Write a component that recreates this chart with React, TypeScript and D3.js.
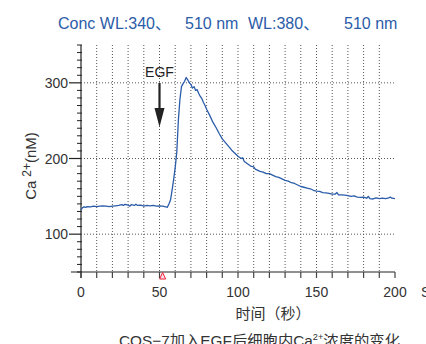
import React from "react";
import * as d3 from "d3";

const times: number[] = [
  0, 1, 2, 3, 4, 6, 8, 10, 12, 14, 16, 18, 20, 22, 24, 26, 27, 28, 30, 31, 32, 34, 35, 36, 38, 40,
  42, 44, 46, 48, 50, 52, 54, 55, 56, 57, 58, 59, 60, 61, 62, 63, 64, 65, 66, 67, 68, 69, 70, 71,
  72, 73, 74, 75, 76, 77, 78, 79, 80, 82, 84, 86, 88, 90, 92, 94, 96, 98, 100, 102, 103, 104, 106,
  108, 110, 111, 112, 114, 116, 118, 120, 122, 124, 126, 128, 130, 132, 134, 136, 138, 140, 142,
  144, 146, 148, 150, 152, 154, 156, 158, 160, 162, 163, 164, 166, 168, 170, 172, 174, 176, 178,
  180, 182, 183, 184, 186, 188, 190, 192, 194, 196, 197, 198, 200,
];
const calcium: number[] = [
  132, 135, 136, 135.5, 136.5, 136, 137, 136.5, 137, 137.5, 137, 136.5, 137, 137.5, 138, 139, 138,
  139.5, 138.5, 137, 139, 138, 139.5, 138, 138.5, 137, 138, 137.5, 138, 137, 137.5, 137, 136,
  135.5, 140, 145, 158, 172, 188, 208, 250, 278, 295, 299, 302, 307, 304, 300, 298, 293, 295, 290,
  291, 286, 282, 279, 274, 270, 265, 257, 248, 241, 233, 226, 221, 216, 211, 207, 203, 200, 201,
  196, 193, 190, 189, 186, 185, 183, 182, 180, 180, 178, 176, 175, 173, 171, 170, 168, 167, 165,
  163, 162, 161, 160, 158, 157, 156.5, 155, 154.5, 154, 153, 153, 155, 152, 152, 151.5, 151, 150,
  150.5, 149, 148.5, 149, 147.5, 150, 147, 146.5, 148, 147, 147.5, 147, 148, 149, 147.5, 147,
];
const xTickLabels: number[] = [0, 50, 100, 150, 200];
const yTickLabels: number[] = [100, 200, 300];
const titleParts: string[] = ["Conc WL:340、", "510 nm", "WL:380、", "510 nm"];
const titleX: number[] = [58, 185, 248, 344];
const egfTime = 50;
const markerTime = 52;

const FONT = "'Liberation Sans', Arial, 'Noto Sans CJK SC', sans-serif";

export default function App() {
  const x = d3.scaleLinear().domain([0, 200]).range([81, 395]);
  const y = d3.scaleLinear().domain([50, 350]).range([272, 45]);
  const line = d3
    .line<number>()
    .x((_, i) => x(times[i]))
    .y((d) => y(d))
    .curve(d3.curveLinear);

  const vGrid = d3.range(10, 200, 10);
  const xTicks = d3.range(0, 201, 10);
  const yMinor = d3.range(50, 351, 10).filter((v) => v % 100 !== 0);

  const mx = x(markerTime);
  const ax = x(egfTime);

  return (
    <svg
      width={426}
      height={344}
      style={{ position: "absolute", left: 0, top: 0, background: "#fff" }}
      fontFamily={FONT}
    >
      {/* title */}
      {titleParts.map((t, i) => (
        <text key={i} x={titleX[i]} y={29} fontSize={16} fill="#2b5ca8">
          {t}
        </text>
      ))}

      {/* vertical grid */}
      {vGrid.map((v) => (
        <line
          key={"vg" + v}
          x1={x(v)}
          x2={x(v)}
          y1={y(350)}
          y2={y(50)}
          stroke="#555"
          strokeWidth={1}
          strokeDasharray="1,2"
        />
      ))}
      {/* horizontal grid */}
      {yTickLabels.map((v) => (
        <line
          key={"hg" + v}
          x1={x(0)}
          x2={x(200)}
          y1={y(v)}
          y2={y(v)}
          stroke="#555"
          strokeWidth={1}
          strokeDasharray="1,2"
        />
      ))}

      {/* axes */}
      <line x1={x(0)} x2={x(0)} y1={y(350)} y2={y(50) + 6} stroke="#222" strokeWidth={1.2} />
      <line x1={x(0) - 10} x2={x(200)} y1={y(50)} y2={y(50)} stroke="#222" strokeWidth={1.2} />

      {/* y ticks */}
      {yMinor.map((v) => (
        <line key={"ym" + v} x1={x(0) - 4} x2={x(0) + 1} y1={y(v)} y2={y(v)} stroke="#222" strokeWidth={1} />
      ))}
      {yTickLabels.map((v) => (
        <g key={"yt" + v}>
          <line x1={x(0) - 12} x2={x(0)} y1={y(v)} y2={y(v)} stroke="#222" strokeWidth={1.2} />
          <text x={68} y={y(v)} dy="0.36em" textAnchor="end" fontSize={14} fill="#333">
            {v}
          </text>
        </g>
      ))}

      {/* x ticks */}
      {xTicks.map((v) => (
        <line key={"xt" + v} x1={x(v)} x2={x(v)} y1={y(50)} y2={y(50) + 6} stroke="#444" strokeWidth={1.2} />
      ))}
      {xTickLabels.map((v) => (
        <text key={"xl" + v} x={x(v)} y={297} textAnchor="middle" fontSize={14} fill="#333">
          {v}
        </text>
      ))}
      <text x={421} y={297} fontSize={14} fill="#333">S</text>

      {/* red marker */}
      <path
        d={`M${mx},${y(50) + 0.5} L${mx + 3},${y(50) + 7} L${mx - 3},${y(50) + 7} Z`}
        fill="#fde"
        stroke="#e23"
        strokeWidth={1}
      />

      {/* data line */}
      <path d={line(calcium) || ""} fill="none" stroke="#2a5caa" strokeWidth={1.3} strokeLinejoin="round" />

      {/* EGF annotation */}
      <text x={ax} y={76.5} textAnchor="middle" fontSize={14} fill="#222">
        EGF
      </text>
      <line x1={ax} x2={ax} y1={83} y2={112} stroke="#222" strokeWidth={2.2} />
      <path d={`M${ax - 5},${108} L${ax + 5},${108} L${ax},${127} Z`} fill="#222" />

      {/* y label */}
      <text transform={`translate(36,166) rotate(-90)`} textAnchor="middle" fontSize={15} fill="#333">
        Ca
        <tspan dx={4} dy={-5} fontSize={12}>2+</tspan>
        <tspan dy={5}>(nM)</tspan>
      </text>

      {/* x label */}
      <text x={273} y={319} textAnchor="middle" fontSize={15} fill="#333">
        时间（秒）
      </text>

      {/* caption */}
      <text x={119} y={346} fontSize={15} fill="#333" textLength={281} lengthAdjust="spacingAndGlyphs">
        COS−7加入EGF后细胞内Ca
        <tspan dy={-6} fontSize={9}>2+</tspan>
        <tspan dy={6}>浓度的变化</tspan>
      </text>
    </svg>
  );
}
